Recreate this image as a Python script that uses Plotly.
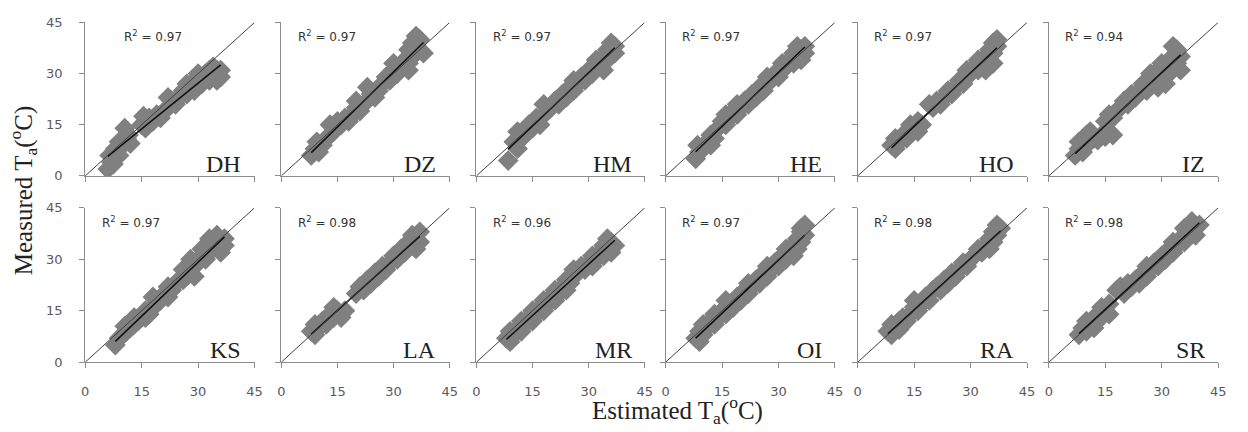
import plotly.graph_objects as go
import numpy as np

stations = ["DH", "DZ", "HM", "HE", "HO", "IZ", "KS", "LA", "MR", "OI", "RA", "SR"]
r2_values = ["0.97", "0.97", "0.97", "0.97", "0.97", "0.94", "0.97", "0.98", "0.96", "0.97", "0.98", "0.98"]
tick_vals = [0, 15, 30, 45]
tick_text = ["0", "15", "30", "45"]

DH_est = [6, 7, 6.5, 8, 7.5, 9, 10, 9, 10.5, 11, 12, 11.5, 15, 16, 17, 15.5, 18, 19, 20, 21, 22, 23, 22, 24, 25, 26, 27, 27, 28, 29, 30, 31, 30, 32, 33, 34, 35, 36, 36, 34, 33, 29, 31, 35]
DH_meas = [2, 4, 6, 8, 3.5, 6, 9, 10, 14, 11, 9.5, 12, 15, 14, 17, 17.5, 16, 18, 17, 19, 20, 22, 23, 21, 23, 25, 24, 27, 26, 28, 27, 29, 30, 30, 28, 30, 31, 31, 29, 32, 31, 25, 27, 28]

DZ_est = [8, 9, 10, 9.5, 11, 12, 13, 13, 14, 15, 16, 17, 18, 19, 20, 21, 20, 22, 24, 25, 23, 26, 27, 28, 29, 30, 31, 30, 32, 33, 34, 35, 34, 36, 36, 37, 35, 37, 36, 38, 34]
DZ_meas = [6, 8, 7, 10, 9, 11, 12, 15, 13, 16, 15, 17, 16, 18, 20, 19, 22, 21, 24, 23, 26, 25, 27, 29, 28, 31, 30, 33, 32, 34, 33, 35, 37, 36, 38, 37, 39, 40, 41, 36, 31]

HM_est = [8.5, 10, 11, 12, 11, 13, 14, 15, 16, 17, 18, 18, 19, 20, 21, 22, 23, 24, 25, 26, 26, 27, 28, 29, 30, 31, 32, 32, 33, 34, 35, 35, 36, 37, 36, 37, 34]
HM_meas = [4.5, 10, 8, 11, 13, 12, 15, 14, 17, 15, 18, 21, 19, 20, 22, 21, 24, 23, 26, 25, 28, 27, 29, 28, 31, 30, 32, 34, 33, 35, 34, 37, 36, 38, 39, 36, 31]

HE_est = [8, 9, 8.5, 10, 11, 12, 12, 13, 14, 15, 16, 16, 17, 18, 19, 19, 20, 21, 22, 23, 24, 25, 26, 27, 27, 28, 29, 30, 31, 31, 32, 33, 34, 34, 35, 36, 36, 37, 35, 37]
HE_meas = [5, 7, 9, 8, 10, 9, 12, 11, 14, 16, 15, 18, 17, 19, 18, 21, 20, 22, 21, 24, 23, 26, 25, 27, 29, 28, 30, 29, 31, 33, 32, 34, 33, 36, 35, 37, 34, 36, 38, 38]

HO_est = [9, 10, 10, 11, 12, 13, 14, 14, 15, 16, 17, 16, 19, 20, 21, 22, 23, 24, 25, 26, 27, 28, 29, 29, 30, 31, 32, 32, 33, 34, 35, 35, 36, 36, 37, 37, 36, 34]
HO_meas = [9, 8, 11, 10, 12, 11, 13, 15, 14, 16, 15, 13, 21, 20, 22, 21, 23, 25, 24, 26, 28, 27, 29, 31, 30, 32, 31, 34, 33, 35, 34, 37, 36, 39, 38, 40, 33, 31]

IZ_est = [7, 8, 9, 8, 10, 10, 12, 11, 13, 14, 15, 16, 17, 15, 16, 17, 18, 19, 20, 21, 22, 23, 24, 25, 26, 27, 27, 28, 29, 30, 30, 31, 32, 32, 33, 34, 34, 35, 33, 35, 31, 29]
IZ_meas = [6, 8, 7, 10, 9, 12, 11, 13, 10.5, 12, 11.5, 13, 12, 16, 18, 17, 19, 20, 22, 21, 24, 23, 25, 27, 25, 27, 30, 28, 31, 29, 33, 32, 34, 30, 35, 33, 37, 35, 38, 31, 27, 26]

KS_est = [8, 9, 10, 10.5, 11, 12, 13, 13, 14, 15, 16, 16, 17, 18, 18, 19, 20, 21, 22, 22, 23, 24, 25, 26, 26, 27, 28, 28, 29, 29, 30, 31, 31, 32, 33, 33, 34, 35, 36, 35, 37, 36, 37]
KS_meas = [5, 7, 8, 10.5, 9, 10, 11, 13, 12, 13, 15, 13, 14, 16, 19, 17, 18, 20, 19, 22, 21, 23, 24, 24, 27, 25, 27, 30, 28, 25, 29, 31, 33, 30, 34, 36, 33, 35, 34, 37, 36, 32, 34]

LA_est = [8, 9, 9, 10, 11, 12, 13, 14, 15, 16, 14, 17, 20, 21, 22, 23, 24, 25, 26, 27, 28, 29, 30, 31, 32, 33, 34, 35, 35, 36, 37, 36, 37]
LA_meas = [9, 8, 11, 10, 12, 11, 14, 13, 15, 13, 16, 15, 20, 22, 21, 24, 23, 26, 25, 28, 27, 29, 31, 30, 33, 32, 35, 34, 37, 36, 38, 33, 35]

MR_est = [8, 9, 9, 10, 11, 12, 12, 13, 14, 15, 15, 16, 17, 18, 18, 19, 20, 21, 21, 22, 23, 24, 24, 25, 26, 26, 27, 28, 29, 30, 31, 31, 32, 33, 34, 34, 35, 36, 36, 37, 35]
MR_meas = [7, 6, 9, 8, 10, 9, 12, 11, 13, 12, 15, 14, 16, 15, 18, 17, 19, 18, 21, 20, 22, 21, 24, 23, 25, 27, 26, 28, 27, 29, 28, 31, 30, 32, 31, 34, 33, 35, 32, 34, 36]

OI_est = [8, 9, 9, 10, 10, 11, 12, 13, 13, 14, 15, 16, 17, 16, 18, 19, 20, 21, 22, 22, 23, 24, 25, 26, 27, 27, 28, 29, 30, 31, 32, 32, 33, 34, 35, 35, 36, 36, 37, 37, 36, 34]
OI_meas = [7, 6, 9, 8, 11, 10, 12, 11, 14, 13, 15, 14, 17, 18, 16, 19, 18, 21, 20, 23, 22, 24, 23, 26, 25, 28, 27, 29, 28, 31, 30, 33, 32, 34, 33, 36, 35, 38, 37, 40, 39, 31]

RA_est = [8, 9, 9, 10, 11, 11, 12, 13, 14, 15, 16, 15, 17, 18, 19, 20, 21, 22, 23, 24, 25, 26, 27, 28, 29, 30, 31, 32, 33, 34, 35, 36, 36, 37, 37, 38, 35]
RA_meas = [9, 8, 11, 10, 12, 9.5, 13, 12, 14, 16, 15, 18, 17, 19, 18, 21, 22, 21, 24, 23, 26, 25, 27, 29, 28, 30, 31, 33, 32, 34, 36, 35, 38, 37, 40, 39, 33]

SR_est = [8, 9, 10, 10, 11, 12, 12, 13, 14, 14, 15, 16, 16, 18, 19, 20, 21, 22, 23, 24, 25, 26, 26, 27, 28, 29, 30, 31, 32, 33, 33, 34, 35, 36, 36, 37, 38, 39, 38, 39, 40]
SR_meas = [8, 10, 9, 12, 11, 13, 10, 12, 14, 16, 15, 14, 17, 21, 22, 20, 23, 22, 24, 23, 26, 25, 28, 27, 29, 28, 31, 30, 33, 32, 35, 34, 36, 35, 39, 38, 40, 39, 41, 37, 40]

est_data = [DH_est, DZ_est, HM_est, HE_est, HO_est, IZ_est, KS_est, LA_est, MR_est, OI_est, RA_est, SR_est]
meas_data = [DH_meas, DZ_meas, HM_meas, HE_meas, HO_meas, IZ_meas, KS_meas, LA_meas, MR_meas, OI_meas, RA_meas, SR_meas]
r2_xpos = [9.8, 3.8, 3.8, 3.8, 3.8, 3.8, 3.8, 3.8, 3.8, 3.8, 3.8, 3.8]

W, H = 1248, 432
col_x0 = [82, 280, 477, 668, 862, 1055]
col_x1 = [253, 450, 647, 839, 1033, 1226]
row_y = [(175, 16), (368, 208)]

AX_COLOR = "#8c8c8c"
TICK_FONT = dict(family="DejaVu Sans", size=13, color="#595959")
MARKER_COLOR = "#808080"

fig = go.Figure()
layout = {}
annotations = []

for i, st in enumerate(stations):
    k = i + 1
    r, c = divmod(i, 6)
    xn = "x" if k == 1 else f"x{k}"
    yn = "y" if k == 1 else f"y{k}"
    est = np.array(est_data[i], dtype=float)
    meas = np.array(meas_data[i], dtype=float)
    fig.add_trace(go.Scatter(x=est, y=meas, mode="markers", xaxis=xn, yaxis=yn,
                             marker=dict(symbol="diamond", size=16, color=MARKER_COLOR, line=dict(width=0)),
                             showlegend=False, hoverinfo="skip"))
    slope, inter = np.polyfit(est, meas, 1)
    xs = np.array([est.min(), est.max()])
    fig.add_trace(go.Scatter(x=xs, y=slope * xs + inter, mode="lines", xaxis=xn, yaxis=yn,
                             line=dict(color="#111111", width=1.6), showlegend=False, hoverinfo="skip"))
    fig.add_trace(go.Scatter(x=[tick_vals[0], tick_vals[-1]], y=[tick_vals[0], tick_vals[-1]], mode="lines",
                             xaxis=xn, yaxis=yn, line=dict(color="#404040", width=1),
                             showlegend=False, hoverinfo="skip", cliponaxis=False))
    y0p, y1p = row_y[r]
    xdom = [col_x0[c] / W, col_x1[c] / W]
    ydom = [1 - y0p / H, 1 - y1p / H]
    layout["xaxis" if k == 1 else f"xaxis{k}"] = dict(
        domain=xdom, anchor=yn, range=[0, 45], tickvals=tick_vals, ticktext=tick_text,
        showticklabels=(r == 1), showgrid=False, zeroline=False, showline=True,
        linecolor=AX_COLOR, linewidth=1, ticks="outside", ticklen=5, tickcolor=AX_COLOR,
        tickfont=TICK_FONT, ticklabelstandoff=12, fixedrange=True)
    layout["yaxis" if k == 1 else f"yaxis{k}"] = dict(
        domain=ydom, anchor=xn, range=[0, 45], tickvals=tick_vals, ticktext=tick_text,
        showticklabels=(c == 0), showgrid=False, zeroline=False, showline=True,
        linecolor=AX_COLOR, linewidth=1, ticks="outside", ticklen=5, tickcolor=AX_COLOR,
        tickfont=TICK_FONT, ticklabelstandoff=14, fixedrange=True)
    annotations.append(dict(x=r2_xpos[i], y=41, xref=xn, yref=yn, xanchor="left", yanchor="middle",
                            text=f"R<sup>2</sup> = {r2_values[i]}", showarrow=False,
                            font=dict(family="DejaVu Sans", size=12, color="#333333")))
    annotations.append(dict(x=42, y=3.5, xref=xn, yref=yn, xanchor="right", yanchor="middle",
                            text=st, showarrow=False,
                            font=dict(family="Liberation Serif", size=24, color="#222222")))

annotations.append(dict(x=680 / W, y=1 - 417 / H, xref="paper", yref="paper", xanchor="center", yanchor="middle",
                        text="Estimated T<sub>a</sub>(<sup>o</sup>C)", showarrow=False,
                        font=dict(family="Liberation Serif", size=25, color="#222222")))
annotations.append(dict(x=20 / W, y=1 - 190 / H, xref="paper", yref="paper", xanchor="center", yanchor="middle",
                        text="Measured T<sub>a</sub>(<sup>o</sup>C)", showarrow=False, textangle=-90,
                        font=dict(family="Liberation Serif", size=25, color="#222222")))

fig.update_layout(width=W, height=H, margin=dict(l=0, r=0, t=0, b=0),
                  paper_bgcolor="white", plot_bgcolor="white",
                  annotations=annotations, showlegend=False, **layout)
fig.write_html("out.html", config={"displayModeBar": False},
               post_script="document.body.style.margin='0';document.body.style.padding='0';")
